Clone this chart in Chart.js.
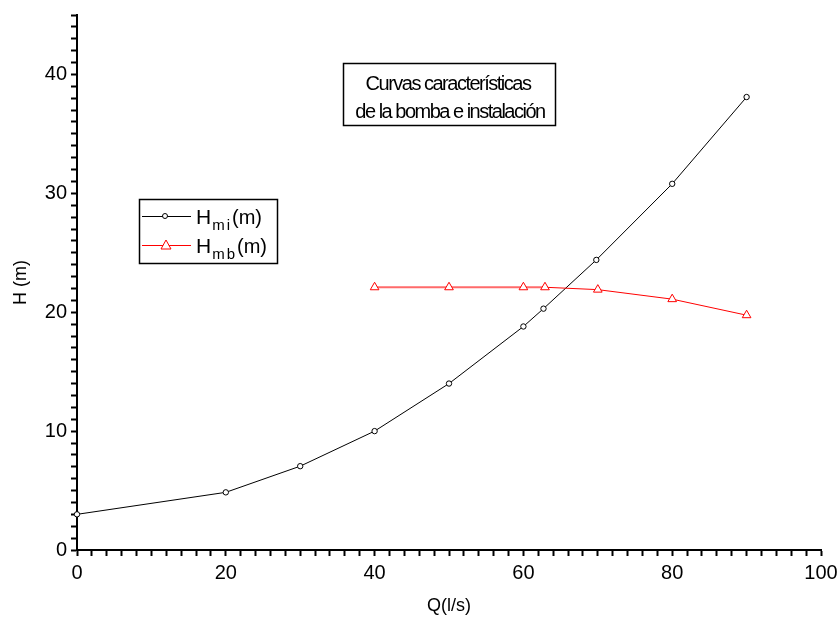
<!DOCTYPE html>
<html>
<head>
<meta charset="utf-8">
<script src="https://cdn.jsdelivr.net/npm/chart.js@4.4.1/dist/chart.umd.min.js"></script>
<style>
html,body{margin:0;padding:0;background:#fff;}
#wrap{width:838px;height:621px;position:relative;}
</style>
</head>
<body>
<div id="wrap"><canvas id="c"></canvas></div>
<script>
// Data
const qMi = [0, 20, 30, 40, 50, 60, 62.7, 69.8, 80, 90];
const hMi = [3.0, 4.85, 7.05, 10.0, 14.0, 18.8, 20.3, 24.4, 30.8, 38.1];
const qMb = [40, 50, 60, 62.9, 70, 80, 90];
const hMb = [22.1, 22.1, 22.1, 22.1, 21.9, 21.1, 19.75];
const xTickLabels = [0, 20, 40, 60, 80, 100];
const yTickLabels = [0, 10, 20, 30, 40];
const titleLines = ["Curvas características", "de la bomba e instalación"];
const legendItems = [
  {base: "H", sub: "mi", tail: "(m)", color: "#000000", marker: "circle"},
  {base: "H", sub: "mb", tail: "(m)", color: "#ff0000", marker: "triangle"}
];

const FONT = "'Liberation Sans', Arial, sans-serif";

const overlay = {
  id: 'overlay',
  afterDraw(chart) {
    const ctx = chart.ctx;
    ctx.save();
    // Title box
    ctx.strokeStyle = '#000';
    ctx.lineWidth = 1.5;
    ctx.strokeRect(343.5, 63.5, 212, 62);
    ctx.fillStyle = '#000';
    ctx.font = '20px ' + FONT;
    ctx.textAlign = 'center';
    ctx.textBaseline = 'middle';
    try { ctx.letterSpacing = '-1.5px'; } catch(e) {}
    ctx.fillText(titleLines[0], 448, 84);
    ctx.fillText(titleLines[1], 450, 112);
    try { ctx.letterSpacing = '0px'; } catch(e) {}

    // Legend box
    ctx.lineWidth = 1.5;
    ctx.strokeRect(139.5, 199.5, 138, 64);
    const rows = [216, 245];
    legendItems.forEach((it, i) => {
      const y = rows[i];
      ctx.strokeStyle = it.color;
      ctx.lineWidth = 1;
      ctx.beginPath();
      ctx.moveTo(142, y + 0.5); ctx.lineTo(191, y + 0.5);
      ctx.stroke();
      ctx.fillStyle = '#fff';
      ctx.lineWidth = 1;
      if (it.marker === 'circle') {
        ctx.beginPath(); ctx.arc(165, y, 2.5, 0, Math.PI * 2); ctx.fill(); ctx.stroke();
      } else {
        ctx.beginPath();
        ctx.moveTo(166, y - 5); ctx.lineTo(171, y + 4); ctx.lineTo(161, y + 4); ctx.closePath();
        ctx.fill(); ctx.stroke();
      }
      ctx.fillStyle = '#000';
      ctx.textAlign = 'left';
      ctx.textBaseline = 'alphabetic';
      ctx.font = '21px ' + FONT;
      let x = 196;
      ctx.fillText(it.base, x, y + 8);
      x += ctx.measureText(it.base).width + 1;
      ctx.font = '15px ' + FONT;
      try { ctx.letterSpacing = '2px'; } catch(e) {}
      ctx.fillText(it.sub, x, y + 14);
      x += ctx.measureText(it.sub).width;
      try { ctx.letterSpacing = '0px'; } catch(e) {}
      ctx.font = '20px ' + FONT;
      ctx.fillText(it.tail, x, y + 8);
    });
    ctx.restore();
  }
};

new Chart(document.getElementById('c'), {
  type: 'scatter',
  data: {
    datasets: [
      {
        label: 'Hmi(m)',
        data: qMi.map((q, i) => ({x: q, y: hMi[i]})),
        showLine: true,
        borderColor: '#000',
        borderWidth: 1,
        pointStyle: 'circle',
        pointRadius: 2.7,
        pointBorderWidth: 1,
        pointBackgroundColor: '#fff',
        pointBorderColor: '#000',
        clip: false,
        order: 2
      },
      {
        label: 'Hmb(m)',
        data: qMb.map((q, i) => ({x: q, y: hMb[i]})),
        showLine: true,
        borderColor: '#ff0000',
        borderWidth: 1,
        segment: {
          borderWidth: c => c.p1DataIndex <= 3 ? 2 : 1,
          borderColor: c => c.p1DataIndex <= 3 ? '#ff6a6a' : '#ff0000'
        },
        pointStyle: 'triangle',
        pointRadius: 5,
        pointBorderWidth: 1,
        pointBackgroundColor: '#fff',
        pointBorderColor: '#ff0000',
        clip: false,
        order: 1
      }
    ]
  },
  options: {
    responsive: true,
    maintainAspectRatio: false,
    animation: false,
    devicePixelRatio: 1,
    layout: {padding: {top: 15, right: 17, left: 0, bottom: 0}},
    plugins: {legend: {display: false}, tooltip: {enabled: false}},
    elements: {line: {tension: 0}},
    scales: {
      x: {
        type: 'linear',
        min: 0, max: 100,
        afterFit: s => { s.height = 71; s.paddingRight = 0; s.paddingLeft = 0; },
        afterBuildTicks: s => {
          const t = [];
          for (let v = 0; v <= 100; v += 2) t.push({value: v});
          s.ticks = t;
        },
        ticks: {
          autoSkip: false,
          maxRotation: 0,
          color: '#000',
          font: {family: FONT, size: 20},
          padding: 5,
          callback: v => xTickLabels.includes(v) ? String(v) : ''
        },
        grid: {drawOnChartArea: false, tickLength: 6, tickWidth: 2, tickColor: '#000'},
        border: {display: true, color: '#000', width: 2},
        title: {display: true, text: 'Q(l/s)', color: '#000', font: {family: FONT, size: 18}, padding: {top: 0, bottom: 4}}
      },
      y: {
        type: 'linear',
        min: 0, max: 45,
        afterFit: s => { s.width = 77; s.paddingTop = 0; s.paddingBottom = 0; },
        afterBuildTicks: s => {
          const t = [];
          for (let v = 0; v <= 45; v += 1) t.push({value: v});
          s.ticks = t;
        },
        ticks: {
          autoSkip: false,
          color: '#000',
          font: {family: FONT, size: 20},
          padding: 4,
          callback: v => yTickLabels.includes(v) ? String(v) : ''
        },
        grid: {drawOnChartArea: false, tickLength: 6, tickWidth: 2, tickColor: '#000'},
        border: {display: true, color: '#000', width: 2},
        title: {display: true, text: 'H (m)', color: '#000', font: {family: FONT, size: 18}, padding: {top: 10, bottom: 0}}
      }
    }
  },
  plugins: [overlay]
});
</script>
</body>
</html>
